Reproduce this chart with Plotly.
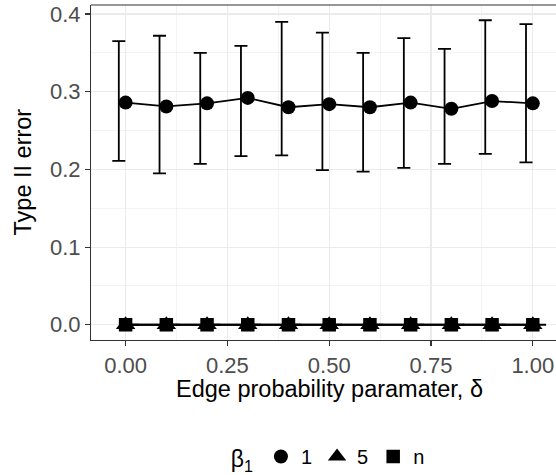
import plotly.graph_objects as go

# ---- data ----
delta = [0.0, 0.1, 0.2, 0.3, 0.4, 0.5, 0.6, 0.7, 0.8, 0.9, 1.0]
beta_labels = ["1", "5", "n"]

err_b1 = [0.286, 0.281, 0.285, 0.292, 0.280, 0.284, 0.280, 0.286, 0.278, 0.288, 0.285]
lo_b1 = [0.211, 0.195, 0.207, 0.217, 0.218, 0.199, 0.197, 0.202, 0.207, 0.220, 0.209]
hi_b1 = [0.365, 0.372, 0.350, 0.359, 0.390, 0.376, 0.350, 0.369, 0.355, 0.392, 0.387]

err_b5 = [0.0, 0.0, 0.0, 0.0, 0.0, 0.0, 0.0, 0.0, 0.0, 0.0, 0.0]
lo_b5 = [0.0, 0.0, 0.0, 0.0, 0.0, 0.0, 0.0, 0.0, 0.0, 0.0, 0.0]
hi_b5 = [0.0, 0.0, 0.0, 0.0, 0.0, 0.0, 0.0, 0.0, 0.0, 0.0, 0.0]

err_bn = [0.0, 0.0, 0.0, 0.0, 0.0, 0.0, 0.0, 0.0, 0.0, 0.0, 0.0]
lo_bn = [0.0, 0.0, 0.0, 0.0, 0.0, 0.0, 0.0, 0.0, 0.0, 0.0, 0.0]
hi_bn = [0.0, 0.0, 0.0, 0.0, 0.0, 0.0, 0.0, 0.0, 0.0, 0.0, 0.0]

x_ticks = [0.0, 0.25, 0.5, 0.75, 1.0]
x_ticktext = ["0.00", "0.25", "0.50", "0.75", "1.00"]
y_ticks = [0.0, 0.1, 0.2, 0.3, 0.4]
y_ticktext = ["0.0", "0.1", "0.2", "0.3", "0.4"]

# ---- style ----
FONT = "Liberation Sans, Arial, Helvetica, sans-serif"
DODGE = 0.0167
LW = 1.8
series = [
    (beta_labels[0], err_b1, lo_b1, hi_b1, "circle", 14, -DODGE),
    (beta_labels[1], err_b5, lo_b5, hi_b5, "triangle-up", 17, 0.0),
    (beta_labels[2], err_bn, lo_bn, hi_bn, "square", 13.5, DODGE),
]

fig = go.Figure()

# error bars (dodged)
for name, m, lo, hi, sym, sz, off in series:
    fig.add_trace(go.Scatter(
        x=[d + off for d in delta], y=m, mode="markers",
        marker=dict(size=0.1, color="rgba(0,0,0,0)"),
        error_y=dict(type="data", symmetric=False,
                     array=[h - v for h, v in zip(hi, m)],
                     arrayminus=[v - l for v, l in zip(m, lo)],
                     color="black", thickness=LW, width=6.5),
        showlegend=False, hoverinfo="skip"))

# lines
for name, m, lo, hi, sym, sz, off in series:
    fig.add_trace(go.Scatter(x=delta, y=m, mode="lines",
                             line=dict(color="black", width=LW),
                             showlegend=False, hoverinfo="skip"))

# points
for name, m, lo, hi, sym, sz, off in series:
    fig.add_trace(go.Scatter(x=delta, y=m, mode="markers", name=name,
                             marker=dict(symbol=sym, size=sz, color="black",
                                         line=dict(width=0))))

x0, x1 = -0.085, 1.057
y0, y1 = -0.0196, 0.4116
L, T, B = 91, 5, 135
W, H = 556, 475
pw = W - L
ph = H - T - B

fig.update_layout(
    width=W, height=H,
    margin=dict(l=L, r=0, t=T, b=B, autoexpand=False),
    paper_bgcolor="white", plot_bgcolor="white",
    font=dict(family=FONT, color="black"),
    showlegend=True,
    hovermode=False,
    legend=dict(orientation="h", xanchor="center", yanchor="middle",
                x=(0.5 - x0) / (x1 - x0), y=(340 - 457) / ph,
                font=dict(size=20, color="black"),
                title=dict(text="β<sub>1</sub>", side="left",
                           font=dict(size=23, color="black")),
                itemwidth=30, bgcolor="rgba(0,0,0,0)"),
    xaxis=dict(range=[x0, x1], tickvals=x_ticks, ticktext=x_ticktext,
               showgrid=True, gridcolor="#EBEBEB", gridwidth=1.1,
               minor=dict(dtick=0.25, tick0=0.125, showgrid=True,
                          gridcolor="#EBEBEB", gridwidth=0.6),
               zeroline=False, showline=True, linecolor="#333333", linewidth=1.1,
               ticks="outside", ticklen=5, tickwidth=1.1, tickcolor="#333333",
               tickfont=dict(size=22, color="#4D4D4D", family=FONT)),
    yaxis=dict(range=[y0, y1], tickvals=y_ticks, ticktext=y_ticktext,
               showgrid=True, gridcolor="#EBEBEB", gridwidth=1.1,
               minor=dict(dtick=0.1, tick0=0.05, showgrid=True,
                          gridcolor="#EBEBEB", gridwidth=0.6),
               zeroline=False, showline=True, linecolor="#333333", linewidth=1.1,
               ticks="outside", ticklen=5, tickwidth=1.1, tickcolor="#333333",
               tickfont=dict(size=22, color="#4D4D4D", family=FONT)),
    shapes=[dict(type="line", xref="paper", yref="paper", x0=0, x1=1, y0=1, y1=1,
                 line=dict(color="#333333", width=1.1))],
    annotations=[
        dict(text="Edge probability paramater, δ", xref="x", yref="paper",
             x=0.5, y=(340 - 389) / ph, xanchor="center", yanchor="middle",
             showarrow=False, font=dict(size=23.5, color="black")),
        dict(text="Type II error", xref="paper", yref="paper",
             x=(22 - L) / pw, y=0.5, xanchor="center", yanchor="middle",
             textangle=-90, showarrow=False, font=dict(size=23.5, color="black")),
    ],
)

fig.write_html(
    "out.html",
    config={"displayModeBar": False, "staticPlot": True},
    post_script=(
        "var s=document.documentElement.style;s.margin='0';s.padding='0';"
        "s.overflow='hidden';s.height='475px';"
        "var b=document.body.style;b.margin='0';b.padding='0';"
        "b.overflow='hidden';b.height='475px';"
    ),
)
